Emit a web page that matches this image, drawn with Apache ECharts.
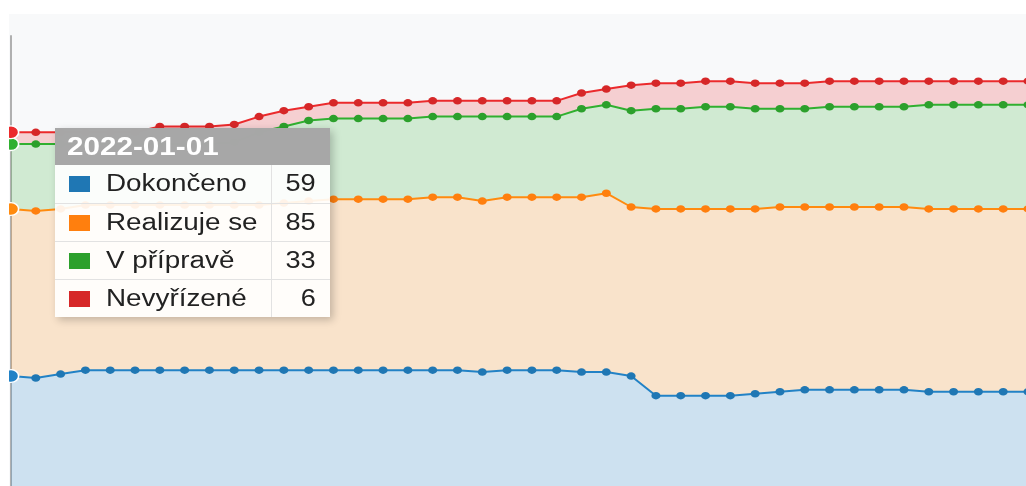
<!DOCTYPE html>
<html><head><meta charset="utf-8">
<script src="https://cdn.jsdelivr.net/npm/echarts@6/dist/echarts.min.js"></script>
<style>
html,body{margin:0;padding:0;background:#fff;overflow:hidden;width:1026px;height:486px;}
#chart{position:absolute;left:9px;top:14px;width:1022px;height:480px;background:#f8f9fa;}
</style></head><body><div id="chart"></div>
<script>
const dates = ['2022-01-01','2022-02-01','2022-03-01','2022-04-01','2022-05-01','2022-06-01','2022-07-01','2022-08-01','2022-09-01','2022-10-01','2022-11-01','2022-12-01',
'2023-01-01','2023-02-01','2023-03-01','2023-04-01','2023-05-01','2023-06-01','2023-07-01','2023-08-01','2023-09-01','2023-10-01','2023-11-01','2023-12-01',
'2024-01-01','2024-02-01','2024-03-01','2024-04-01','2024-05-01','2024-06-01','2024-07-01','2024-08-01','2024-09-01','2024-10-01','2024-11-01','2024-12-01',
'2025-01-01','2025-02-01','2025-03-01','2025-04-01','2025-05-01','2025-06-01'];
const names = ['Dokončeno','Realizuje se','V přípravě','Nevyřízené'];
const colors = ['#1f77b4','#ff7f0e','#2ca02c','#d62728'];
const dokonceno = [59,58,60,62,62,62,62,62,62,62,62,62,62,62,62,62,62,62,62,61,62,62,62,61,61,59,49,49,49,49,50,51,52,52,52,52,52,51,51,51,51,51];
const realizujeSe = [85,85,84,84,84,84,84,84,84,84,84,85,86,87,87,87,87,88,88,87,88,88,88,89,91,86,95,95,95,95,94,94,93,93,93,93,93,93,93,93,93,93];
const vPriprave = [33,34,33,31,31,31,31,31,31,32,37,39,41,41,41,41,41,41,41,43,41,41,41,45,45,49,51,51,52,52,51,50,50,51,51,51,51,53,53,53,53,53];
const nevyrizene = [6,6,6,6,6,6,9,9,9,9,8,8,7,8,8,8,8,8,8,8,8,8,8,8,8,13,13,13,13,13,13,13,13,13,13,13,13,12,12,12,12,12];
const values = [dokonceno, realizujeSe, vPriprave, nevyrizene];

const chart = echarts.init(document.getElementById('chart'), null, {renderer:'canvas'});
const font = "'Liberation Sans', Arial, sans-serif";
function fmt(params){
  let h = '<div style="width:275px;font-family:'+font+';">';
  h += '<div style="height:37px;line-height:37px;background:rgba(160,160,160,0.93);color:#fff;font-weight:bold;font-size:26px;padding-left:12px;overflow:hidden;white-space:nowrap;"><span style="display:inline-block;transform:scaleX(1.14);transform-origin:left center;">'+params[0].axisValue+'</span></div>';
  h += '<table style="border-collapse:collapse;width:275px;table-layout:fixed;">';
  params.forEach((p,i)=>{
    const bb = i < params.length-1 ? 'border-bottom:1px solid #e2e2e2;' : '';
    h += '<tr style="height:38px;">';
    h += '<td style="'+bb+'width:202px;padding:0 0 0 14px;white-space:nowrap;color:#222;font-size:23px;"><span style="display:inline-block;width:21px;height:16px;background:'+p.color+';vertical-align:-1px;margin-right:16px;"></span><span style="display:inline-block;transform:scaleX(1.21);transform-origin:left center;">'+p.seriesName+'</span></td>';
    h += '<td style="'+bb+'border-left:1px solid #e2e2e2;text-align:right;padding:0 14px 0 0;color:#222;font-size:23px;"><span style="display:inline-block;transform:scaleX(1.18);transform-origin:right center;">'+p.value+'</span></td>';
    h += '</tr>';
  });
  h += '</table></div>';
  return h;
}
const series = names.map((n,i)=>({
  name:n, type:'line', stack:'total', data: values[i],
  symbol:'circle', symbolSize:[9,7.5], showAllSymbol:true,
  itemStyle:{color:colors[i]},
  lineStyle:{width:2,color:colors[i]},
  areaStyle:{color:colors[i],opacity:0.2},
  emphasis:{scale:1.7,itemStyle:{borderColor:'#fff',borderWidth:1.5}},
  animation:false
}));
chart.setOption({
  animation:false,
  backgroundColor:'#f8f9fa',
  grid:{left:2,right:3,top:22,bottom:2},
  tooltip:{
    trigger:'axis', alwaysShowContent:true, transitionDuration:0,
    position:[46,113.5], padding:0, borderWidth:0,
    backgroundColor:'rgba(255,255,255,0.9)',
    extraCssText:'border-radius:0;box-shadow:3px 3px 8px rgba(0,0,0,0.22);overflow:hidden;',
    axisPointer:{type:'none'},
    formatter: fmt
  },
  xAxis:{type:'category',boundaryGap:false,data:dates,
    axisLine:{show:false},axisTick:{show:false},axisLabel:{show:false},splitLine:{show:false}},
  yAxis:{type:'value',min:0,max:232,
    axisLine:{show:true,lineStyle:{color:'#b0b0b0',width:2}},
    axisTick:{show:false},axisLabel:{show:false},splitLine:{show:false}},
  series: series
});
chart.dispatchAction({type:'showTip', seriesIndex:0, dataIndex:0});
</script></body></html>
